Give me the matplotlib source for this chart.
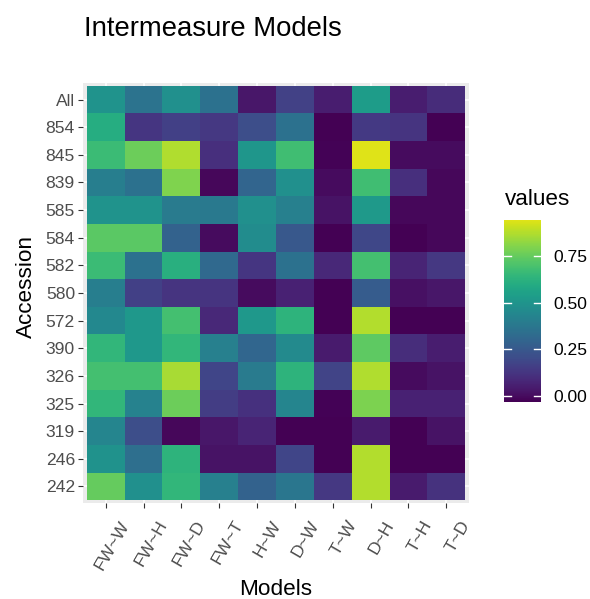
import numpy as np
import matplotlib
matplotlib.use("Agg")
import matplotlib.pyplot as plt
from matplotlib.colors import ListedColormap
from matplotlib.transforms import offset_copy

plt.rcParams['font.family'] = ['Liberation Sans', 'DejaVu Sans']

accessions = ["All", "854", "845", "839", "585", "584", "582", "580",
              "572", "390", "326", "325", "319", "246", "242"]
models = ["FW~W", "FW~H", "FW~D", "FW~T", "H~W", "D~W", "T~W", "D~H", "T~H", "T~D"]

# one row of model values per accession
v_all = [0.496, 0.359, 0.481, 0.349, 0.033, 0.170, 0.054, 0.528, 0.054, 0.096]
v_854 = [0.602, 0.128, 0.165, 0.133, 0.212, 0.349, -0.03, 0.143, 0.123, -0.03]
v_845 = [0.665, 0.759, 0.865, 0.107, 0.507, 0.675, -0.019, 0.94, 0.002, 0.002]
v_839 = [0.402, 0.349, 0.791, -0.009, 0.296, 0.481, 0.002, 0.675, 0.107, -0.009]
v_585 = [0.496, 0.496, 0.391, 0.381, 0.481, 0.412, 0.023, 0.517, -0.009, -0.009]
v_584 = [0.728, 0.728, 0.286, 0.002, 0.465, 0.249, -0.03, 0.186, -0.03, -0.009]
v_582 = [0.665, 0.349, 0.612, 0.317, 0.128, 0.349, 0.086, 0.686, 0.075, 0.133]
v_580 = [0.402, 0.165, 0.123, 0.123, 0.002, 0.065, -0.03, 0.265, 0.012, 0.033]
v_572 = [0.444, 0.512, 0.686, 0.086, 0.512, 0.633, -0.03, 0.875, -0.03, -0.03]
v_390 = [0.644, 0.512, 0.644, 0.412, 0.307, 0.454, 0.044, 0.738, 0.102, 0.054]
v_326 = [0.686, 0.686, 0.854, 0.181, 0.391, 0.633, 0.175, 0.865, 0.002, 0.023]
v_325 = [0.644, 0.423, 0.759, 0.154, 0.112, 0.433, -0.019, 0.786, 0.065, 0.065]
v_319 = [0.433, 0.212, -0.009, 0.033, 0.075, -0.03, -0.03, 0.044, -0.03, 0.023]
v_246 = [0.491, 0.338, 0.633, 0.023, 0.023, 0.181, -0.03, 0.875, -0.03, -0.03]
v_242 = [0.749, 0.481, 0.644, 0.412, 0.286, 0.370, 0.133, 0.870, 0.044, 0.117]

values = np.array([v_all, v_854, v_845, v_839, v_585, v_584, v_582, v_580,
                   v_572, v_390, v_326, v_325, v_319, v_246, v_242])

W, H = 590, 599
fig = plt.figure(figsize=(W / 100, H / 100), dpi=100)
fig.patch.set_facecolor("white")


def px_axes(x0, y0, x1, y1):
    return fig.add_axes([x0 / W, 1 - y1 / H, (x1 - x0) / W, (y1 - y0) / H])


cmap = ListedColormap(plt.get_cmap("viridis")(np.linspace(0, 0.95, 256)))

ax = px_axes(83, 83, 469, 503)
ax.set_facecolor("#ebebeb")
nx, ny = len(models), len(accessions)
xs = np.arange(1, nx + 1)
ys = np.arange(1, ny + 1)

for x in xs:
    ax.axvline(x, color="white", lw=1.1, zorder=0)
for y in ys:
    ax.axhline(y, color="white", lw=1.1, zorder=0)

vmin, vmax = values.min(), values.max()
mesh = ax.pcolormesh(np.arange(0.5, nx + 1), np.arange(0.5, ny + 1), values,
                     cmap=cmap, vmin=vmin, vmax=vmax, zorder=1)
ax.set_xlim(0.4, nx + 0.6)
ax.set_ylim(ny + 0.6, 0.4)
for s in ax.spines.values():
    s.set_visible(False)

ax.set_yticks(ys)
ax.set_yticklabels(accessions)
ax.set_xticks(xs)
ax.set_xticklabels([])
ax.tick_params(axis="both", length=3.3, width=0.8, color="#333333",
               labelsize=12.6, labelcolor="#4d4d4d", pad=2.5)

# rotated model labels
trans = offset_copy(ax.get_xaxis_transform(), fig=fig, x=24, y=-21, units="dots")
for x, lab in zip(xs, models):
    ax.text(x, 0, lab, transform=trans, rotation=60, rotation_mode="anchor",
            ha="right", va="baseline", fontsize=12.6, color="#4d4d4d")

fig.text(276 / W, 1 - 595 / H, "Models", ha="center", va="baseline", fontsize=16.2)
fig.text(31.5 / W, 1 - 287 / H, "Accession", ha="center", va="baseline",
         rotation=90, rotation_mode="anchor", fontsize=16.2)
fig.text(84 / W, 1 - 36 / H, "Intermeasure Models", ha="left", va="baseline",
         fontsize=19.8)

# colour bar legend
cax = px_axes(504, 220, 541, 402)
cb = fig.colorbar(mesh, cax=cax)
cb.outline.set_visible(False)
ticks = [0.0, 0.25, 0.5, 0.75]
cb.set_ticks(ticks)
cb.set_ticklabels(["0.00", "0.25", "0.50", "0.75"])
cax.tick_params(length=0, pad=9, labelsize=12.6, labelcolor="black")
ytr = cax.get_yaxis_transform()
for t in ticks:
    cax.plot([0, 0.2], [t, t], color="white", lw=1, transform=ytr)
    cax.plot([0.8, 1], [t, t], color="white", lw=1, transform=ytr)
fig.text(505 / W, 1 - 205 / H, "values", ha="left", va="baseline", fontsize=16.2)

fig.savefig("out.png", dpi=100)
